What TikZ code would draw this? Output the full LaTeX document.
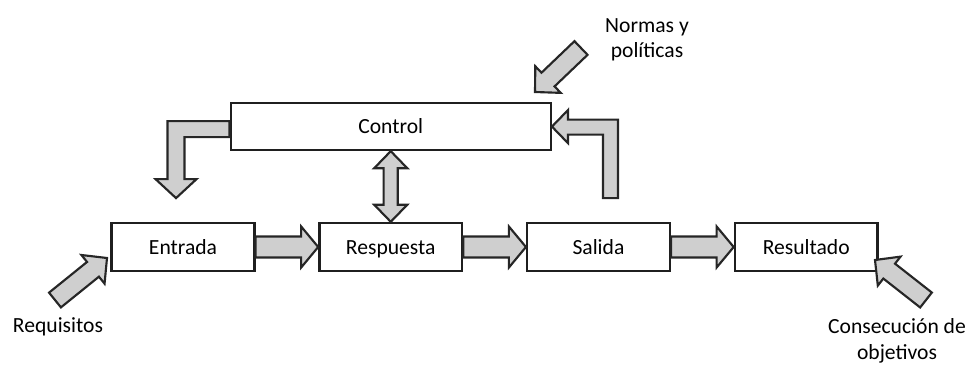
\documentclass[tikz,border=0pt]{standalone}
\usepackage{fontspec}
\setmainfont{Carlito}
\usetikzlibrary{calc, positioning}
\tikzstyle{stage} = [rectangle, minimum width=107pt, minimum height=36pt, text centered, text height=12pt, text depth=1.4pt, draw=black!88, line width=1.8pt, fill=white, font=\fontsize{16.2pt}{19pt}\selectfont]
\tikzstyle{blockarr} = [draw=black!85, line width=1.6pt, fill=gray!38, line join=miter]
\tikzstyle{caption} = [align=center, font=\fontsize{16.2pt}{19pt}\selectfont]

% straight block arrow: from, to, shaft half width, head half width, head length
\newcommand{\blockarrow}[5]{%
  \coordinate (ba) at ($(#2)!#5!(#1)$);
  \draw[blockarr] ($(#1)!#3!90:(#2)$) -- ($(ba)!#3!90:(#2)$) -- ($(ba)!#4!90:(#2)$) -- (#2)
    -- ($(ba)!#4!-90:(#2)$) -- ($(ba)!#3!-90:(#2)$) -- ($(#1)!#3!-90:(#2)$) -- cycle;
}
% same with a head at both ends
\newcommand{\twinarrow}[5]{%
  \coordinate (ba) at ($(#2)!#5!(#1)$);
  \coordinate (bb) at ($(#1)!#5!(#2)$);
  \draw[blockarr] (#1) -- ($(bb)!#4!90:(#2)$) -- ($(bb)!#3!90:(#2)$) -- ($(ba)!#3!90:(#2)$)
    -- ($(ba)!#4!90:(#2)$) -- (#2) -- ($(ba)!#4!-90:(#2)$) -- ($(ba)!#3!-90:(#2)$)
    -- ($(bb)!#3!-90:(#2)$) -- ($(bb)!#4!-90:(#2)$) -- cycle;
}

\begin{document}
\begin{tikzpicture}[x=0.75pt, y=-0.75pt]
  \useasboundingbox (0,0) rectangle (973,365);

  \node (ent) [stage] at (183,247) {Entrada};
  \node (resp) [stage, right=47pt of ent] {Respuesta};
  \node (sal) [stage, right=47pt of resp] {Salida};
  \node (resu) [stage, right=47pt of sal] {Resultado};
  \node (ctl) [stage, minimum width=240pt, minimum height=35pt, above=53pt of resp] {Control};

  \node (req) [caption] at (58,327) {Requisitos};
  \node (norm) [caption] at (647,40) {Normas y\\políticas};
  \node (obj) [caption] at (897,341) {Consecución de\\objetivos};

  \coordinate (reqtail) at (55,300);
  \coordinate (reqtip) at (107,258);
  \coordinate (normtail) at (581,48);
  \coordinate (normtip) at (535,92);
  \coordinate (objtail) at (926,300);
  \coordinate (objtip) at (875,260);

  \blockarrow{ent.east}{resp.west}{7.9pt}{15.4pt}{12.8pt}
  \blockarrow{resp.east}{sal.west}{7.9pt}{15.4pt}{12.8pt}
  \blockarrow{sal.east}{resu.west}{7.9pt}{15.4pt}{12.8pt}
  \twinarrow{ctl.south}{resp.north}{5.3pt}{12.4pt}{12.8pt}

  \blockarrow{reqtail}{reqtip}{7.1pt}{13.8pt}{13.5pt}
  \blockarrow{normtail}{normtip}{7.1pt}{13.8pt}{13.5pt}
  \blockarrow{objtail}{objtip}{7.1pt}{13.8pt}{13.5pt}

  % feedback from control down to the input
  \draw[blockarr, shift={(ctl.west)}] (0,-5.5) -- (-62,-5.5) -- (-62,52.5) -- (-74,52.5)
    -- (-53.5,71.5) -- (-33,52.5) -- (-45,52.5) -- (-45,10.5) -- (0,10.5) -- cycle;
  % feedback from the output back to control
  \draw[blockarr, shift={(ctl.east)}] (0,0) -- (16,-16.5) -- (16,-7) -- (66,-7) -- (66,71.5)
    -- (51,71.5) -- (51,8) -- (16,8) -- (16,16.5) -- cycle;
\end{tikzpicture}
\end{document}
